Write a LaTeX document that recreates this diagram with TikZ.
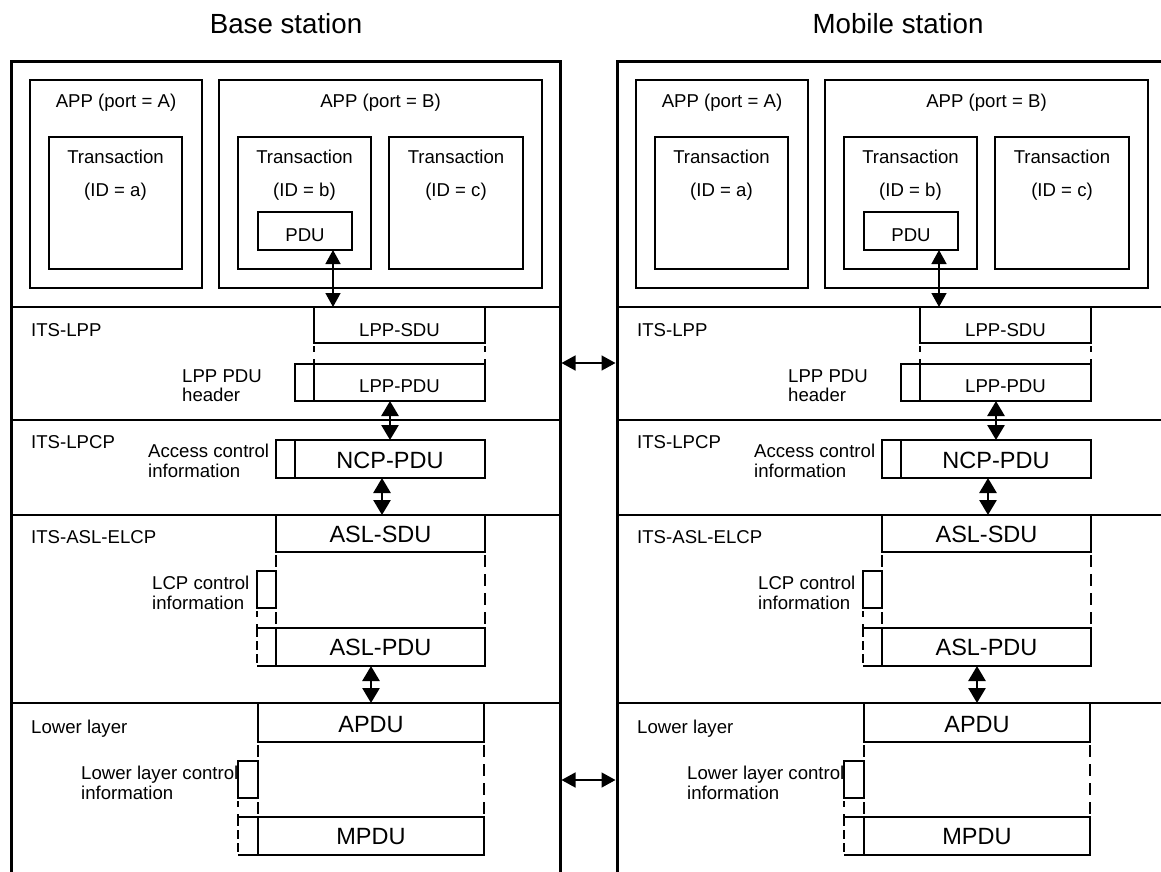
\documentclass[tikz,border=0pt]{standalone}
\usepackage{fontspec}
\setmainfont{Liberation Sans}
\usetikzlibrary{arrows.meta}
\newcommand\fsn{\fontsize{18.6pt}{22pt}\selectfont}
\newcommand\fsb{\fontsize{23.5pt}{28pt}\selectfont}
\newcommand\fst{\fontsize{27.7pt}{32pt}\selectfont}
\newcommand\bx[6][]{%
 \pgfmathsetmacro\bxw{#5-#3}\pgfmathsetmacro\bxh{#6-#4}%
 \pgfmathsetmacro\bxcx{(#3+#5)/2}\pgfmathsetmacro\bxcy{(#4+#6)/2}%
 \node[pbox,#1,minimum width=\bxw pt,minimum height=\bxh pt] (#2) at (\bxcx,\bxcy) {};}
\tikzset{
 pbox/.style={draw,line width=1.4pt,inner sep=0pt,outer sep=0pt,rectangle},
 ln/.style={line width=1.4pt},
 frame/.style={line width=3pt,line join=miter},
 layer/.style={line width=1.4pt},
 txt/.style={inner sep=0pt,font=\fsn},
 txtb/.style={inner sep=0pt,font=\fsb},
 dshs/.style={line width=1.4pt,dash pattern=on 6pt off 7pt,dash phase=10pt},
 dshl/.style={line width=1.4pt,dash pattern=on 12pt off 7pt,dash phase=16pt},
 dshh/.style={line width=1.4pt,dash pattern=on 9pt off 4pt},
 arrthin/.style={line width=1.5pt,{Triangle[length=14pt,width=15pt]}-{Triangle[length=14pt,width=15pt]}},
 arrthick/.style={line width=2.7pt,{Triangle[length=15pt,width=17pt]}-{Triangle[length=15pt,width=17pt]}}
}
\newcommand\drawstation{%
 \draw[frame] (11,880) -- (11,61) -- (560,61) -- (560,880);
 \foreach \yy in {307,420,515,703} \draw[layer] (11,\yy) -- (560,\yy);
 % application boxes
 \bx{appA}{30}{80}{202}{288}
 \bx{appB}{219}{80}{542}{288}
 \bx{trA}{49}{137}{182}{269}
 \bx{trB}{238}{137}{371}{269}
 \bx{trC}{389}{137}{523}{269}
 \bx{pdu}{258}{212}{352}{250}
 \node[txt,anchor=base] (tA) at (116,107) {APP (port = A)};
 \node[txt,anchor=base] (tB) at (380.5,107) {APP (port = B)};
 \node[txt,anchor=base] (ta1) at (115.5,163) {Transaction};
 \node[txt,anchor=base] (ta2) at (115.5,196) {(ID = a)};
 \node[txt,anchor=base] (tb1) at (304.5,163) {Transaction};
 \node[txt,anchor=base] (tb2) at (304.5,196) {(ID = b)};
 \node[txt,anchor=base] (tc1) at (456,163) {Transaction};
 \node[txt,anchor=base] (tc2) at (456,196) {(ID = c)};
 \node[txt,anchor=base] (tpdu) at (305,241) {PDU};
 % ITS-LPP
 \bx{lppsdu}{314}{307}{485}{343}
 \bx{lpph}{295}{364}{314}{401}
 \bx{lppm}{314}{364}{485}{401}
 \draw[dshs] (lppsdu.south west) -- (lppm.north west);
 \draw[dshs] (lppsdu.south east) -- (lppm.north east);
 \node[txt,anchor=base west] (lLPP) at (31,336) {ITS-LPP};
 \node[txt,anchor=base] (tsdu) at (399.5,336) {LPP-SDU};
 \node[txt,anchor=base west] (lh1) at (182,382) {LPP PDU};
 \node[txt,anchor=base west] (lh2) at (182,401) {header};
 \node[txt,anchor=base] (tlpppdu) at (399.5,392) {LPP-PDU};
 % ITS-LPCP
 \bx{ncph}{276}{440}{295}{478}
 \bx{ncpm}{295}{440}{485}{478}
 \node[txt,anchor=base west] (lLPCP) at (31,448) {ITS-LPCP};
 \node[txt,anchor=base west] (ac1) at (148,457) {Access control};
 \node[txt,anchor=base west] (ac2) at (148,477) {information};
 \node[txtb,anchor=base] (tncp) at (390,468) {NCP-PDU};
 % ITS-ASL-ELCP
 \bx{aslsdu}{276}{515}{485}{552}
 \bx{lcp}{257}{571}{276}{608}
 \bx[draw=none]{aslh}{257}{628}{276}{666}
 \bx{aslm}{276}{628}{485}{666}
 \draw[ln] (aslh.north west) -- (aslh.north east) (aslh.south west) -- (aslh.south east);
 \draw[dshh] (aslh.north west) -- (aslh.south west);
 \draw[dshl] (aslsdu.south west) -- (aslm.north west);
 \draw[dshl] (aslsdu.south east) -- (aslm.north east);
 \draw[dshs] (lcp.south west) -- (aslh.north west);
 \node[txt,anchor=base west] (lASL) at (31,543) {ITS-ASL-ELCP};
 \node[txtb,anchor=base] (taslsdu) at (380.5,542) {ASL-SDU};
 \node[txt,anchor=base west] (lc1) at (152,589) {LCP control};
 \node[txt,anchor=base west] (lc2) at (152,609) {information};
 \node[txtb,anchor=base] (taslpdu) at (380.5,655) {ASL-PDU};
 % Lower layer
 \bx{apdu}{258}{703}{484}{742}
 \bx{llc}{238}{761}{258}{798}
 \bx[draw=none]{mph}{238}{817}{258}{855}
 \bx{mpm}{258}{817}{484}{855}
 \draw[ln] (mph.north west) -- (mph.north east) (mph.south west) -- (mph.south east);
 \draw[dshh] (mph.north west) -- (mph.south west);
 \draw[dshl] (apdu.south west) -- (mpm.north west);
 \draw[dshl] (apdu.south east) -- (mpm.north east);
 \draw[dshs] (llc.south west) -- (mph.north west);
 \node[txt,anchor=base west] (lLow) at (31,733) {Lower layer};
 \node[txtb,anchor=base] (tapdu) at (371,732) {APDU};
 \node[txt,anchor=base west] (ll1) at (81,779) {Lower layer control};
 \node[txt,anchor=base west] (ll2) at (81,799) {information};
 \node[txtb,anchor=base] (tmpdu) at (371,844) {MPDU};
 % vertical arrows
 \draw[arrthin] ([xshift=28pt]pdu.south) -- ([xshift=28pt]pdu.south |- lppsdu.north);
 \draw[arrthick] (ncpm.north |- lppm.south) -- (ncpm.north);
 \draw[arrthick] ([xshift=1.5pt]aslsdu.north |- ncpm.south) -- ([xshift=1.5pt]aslsdu.north);
 \draw[arrthick] (apdu.north |- aslm.south) -- (apdu.north);
}
\begin{document}
\begin{tikzpicture}[x=1pt,y=-1pt]
\useasboundingbox (0,0) rectangle (1161,871);
\clip (0,0) rectangle (1161,871);
\node[inner sep=0pt,font=\fst,anchor=base] (tbase) at (286,33) {Base station};
\node[inner sep=0pt,font=\fst,anchor=base] (tmob) at (898,33) {Mobile station};
\begin{scope}[name prefix=b-]
\drawstation
\end{scope}
\begin{scope}[xshift=606pt,name prefix=m-]
\drawstation
\end{scope}
\coordinate (L1) at (561.5,363);
\coordinate (R1) at (615.5,363);
\coordinate (L2) at (561.5,780);
\coordinate (R2) at (615.5,780);
\draw[arrthin] (L1) -- (R1);
\draw[arrthin] (L2) -- (R2);
\end{tikzpicture}
\end{document}
